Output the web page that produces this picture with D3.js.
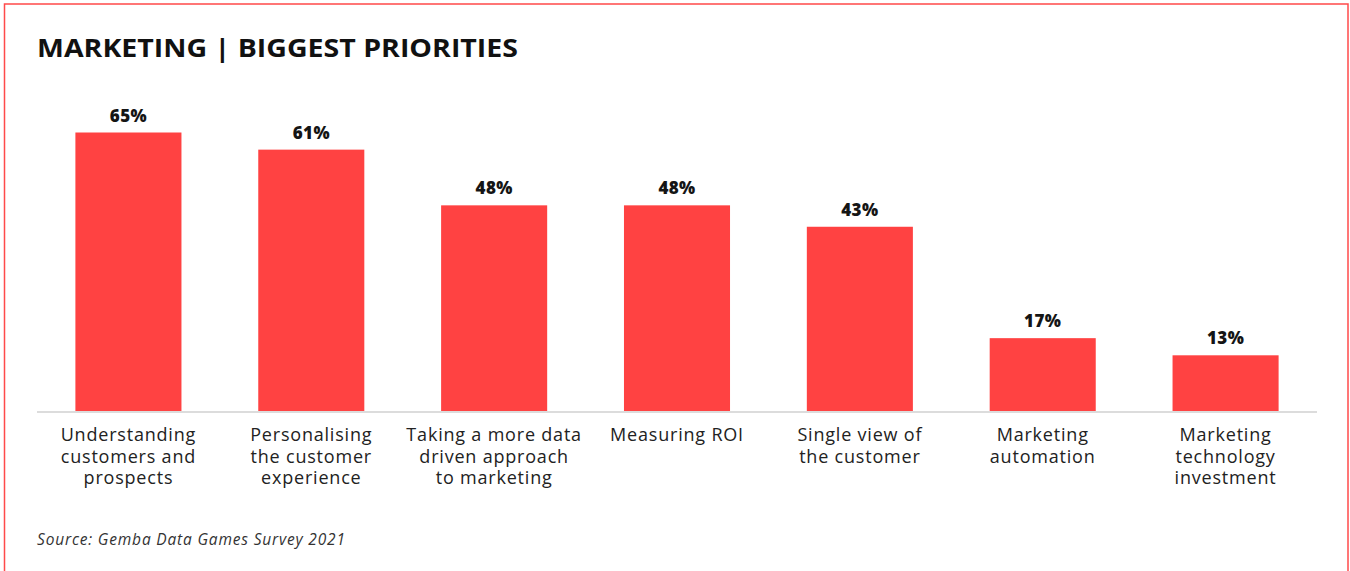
<!DOCTYPE html>
<html>
<head>
<meta charset="utf-8">
<script src="https://cdn.jsdelivr.net/npm/d3@7"></script>
<style>
  html, body { margin: 0; padding: 0; background: #fff; }
  svg { display: block; }
</style>
</head>
<body>
<svg id="chart" width="1350" height="571"></svg>
<script>
// Survey results: share of respondents naming each area as a top marketing priority
const categories = [
  ["Understanding", "customers and", "prospects"],
  ["Personalising", "the customer", "experience"],
  ["Taking a more data", "driven approach", "to marketing"],
  ["Measuring ROI"],
  ["Single view of", "the customer"],
  ["Marketing", "automation"],
  ["Marketing", "technology", "investment"]
];
const values = [65, 61, 48, 48, 43, 17, 13];
const valueLabels = ["65%", "61%", "48%", "48%", "43%", "17%", "13%"];
const title = "MARKETING | BIGGEST PRIORITIES";
const source = "Source: Gemba Data Games Survey 2021";

const svg = d3.select("#chart");
const red = "#ff4242";
const font = "'Open Sans', 'Noto Sans', sans-serif";

// card frame
svg.append("rect")
  .attr("x", 4.5).attr("y", 4).attr("width", 1343.5).attr("height", 580)
  .attr("fill", "#fff").attr("stroke", "#ff4a4a").attr("stroke-width", 1.5);

svg.append("text")
  .attr("x", 37).attr("y", 57)
  .attr("font-family", font).attr("font-weight", 700).attr("font-size", 25.5)
  .attr("fill", "#111")
  .attr("textLength", 481).attr("lengthAdjust", "spacingAndGlyphs")
  .text(title);

const x = d3.scaleBand()
  .domain(d3.range(values.length))
  .range([37, 1317])
  .paddingInner(0.42)
  .paddingOuter(0.21);

const y = d3.scaleLinear().domain([0, 65]).range([411, 132.5]);

const g = svg.append("g");

g.selectAll("rect.bar")
  .data(values)
  .join("rect")
  .attr("class", "bar")
  .attr("x", (d, i) => x(i))
  .attr("width", x.bandwidth())
  .attr("y", d => y(d))
  .attr("height", d => y(0) - y(d))
  .attr("fill", red);

// baseline
g.append("line")
  .attr("x1", 37).attr("x2", 1317)
  .attr("y1", 412).attr("y2", 412)
  .attr("stroke", "#dcdcdc").attr("stroke-width", 2);

g.selectAll("text.val")
  .data(values)
  .join("text")
  .attr("class", "val")
  .attr("x", (d, i) => x(i) + x.bandwidth() / 2)
  .attr("y", d => y(d) - 11)
  .attr("text-anchor", "middle")
  .attr("font-family", font).attr("font-weight", 800).attr("font-size", 17)
  .attr("letter-spacing", 0.4)
  .attr("fill", "#151515")
  .text((d, i) => valueLabels[i]);

const lab = g.selectAll("text.cat")
  .data(categories)
  .join("text")
  .attr("class", "cat")
  .attr("text-anchor", "middle")
  .attr("font-family", font).attr("font-size", 18)
  .attr("letter-spacing", 0.8)
  .attr("fill", "#222");

lab.selectAll("tspan")
  .data((d, i) => d.map(line => ({ line, i })))
  .join("tspan")
  .attr("x", d => x(d.i) + x.bandwidth() / 2)
  .attr("y", (d, j) => 441 + j * 21.5)
  .text(d => d.line);

svg.append("text")
  .attr("x", 37).attr("y", 545)
  .attr("font-family", font).attr("font-style", "italic").attr("font-size", 15.5)
  .attr("fill", "#333")
  .attr("textLength", 308).attr("lengthAdjust", "spacing")
  .text(source);
</script>
</body>
</html>
